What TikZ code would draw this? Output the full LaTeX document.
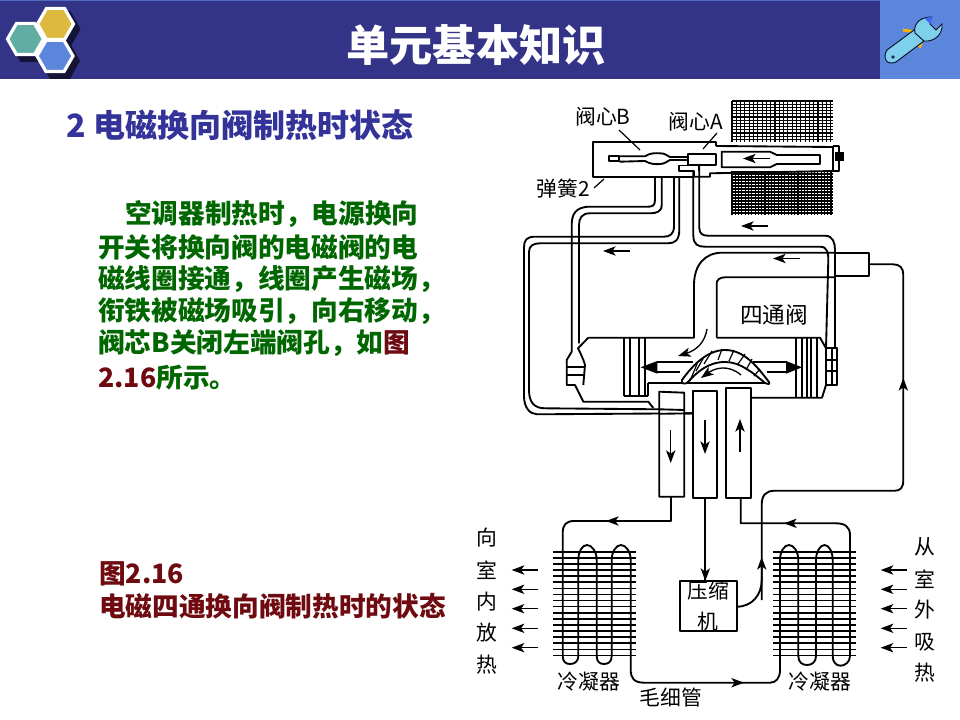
\documentclass[tikz,border=0pt]{standalone}
\usepackage{fontspec}
\setmainfont{Liberation Sans}
\newfontfamily\cjk{Noto Sans CJK SC}
\usetikzlibrary{arrows.meta}
\definecolor{navy}{HTML}{333388}
\definecolor{headblue}{HTML}{5B86DC}
\definecolor{dgreen}{HTML}{006600}
\definecolor{dred}{HTML}{6E0A10}
\definecolor{headnavy}{HTML}{333399}
\definecolor{wrench}{HTML}{7FD0EC}
\definecolor{hexgold}{HTML}{DDB93D}
\definecolor{hexteal}{HTML}{5FADA3}
\tikzset{
 ln/.style={line width=1.4pt,line join=round,black},
 thin ln/.style={line width=0.9pt,black},
 flow/.style={line width=1pt,-{Stealth[length=9.5pt,width=7pt,inset=2.5pt]}},
 hex/.style={line width=2.4pt,draw=white,line join=miter},
 lab/.style={font=\cjk\fontsize{15.6pt}{19pt}\selectfont,inner sep=0pt,text=black},
 body/.style={font=\cjk\bfseries\fontsize{20pt}{24pt}\selectfont,inner sep=0pt,anchor=west},
}
\newcommand{\hexdraw}[3]{%
 \draw[hex,fill=#3] (#1-18,#2)--(#1-9,#2-15.6)--(#1+9,#2-15.6)--(#1+18,#2)--(#1+9,#2+15.6)--(#1-9,#2+15.6)--cycle;
}
\begin{document}
\begin{tikzpicture}[x=0.75pt,y=-0.75pt]
\useasboundingbox (0,0) rectangle (960,720);
\fill[white] (0,0) rectangle (960,720);
% header
\fill[navy] (0,0) rectangle (880,79.5);
\fill[headblue!70!navy] (0,0) rectangle (880,1.5);
\fill[headblue] (880,0) rectangle (960,79.5);
% logo
\begin{scope}[shift={(5,5)}]
\fill[black!60!navy] (55.5,24) +(-20,0)--+(-10,-18)--+(10,-18)--+(20,0)--+(10,18)--+(-10,18)--cycle;
\fill[black!60!navy] (55,56) +(-20,0)--+(-10,-18)--+(10,-18)--+(20,0)--+(10,18)--+(-10,18)--cycle;
\fill[black!60!navy] (25.5,39) +(-20,0)--+(-10,-18)--+(10,-18)--+(20,0)--+(10,18)--+(-10,18)--cycle;
\end{scope}
\hexdraw{55.5}{24}{hexgold}
\hexdraw{25.5}{39}{hexteal}
\hexdraw{55}{56}{headblue}
% wrench
\draw[line width=2.2pt,orange!60!yellow] (903,30)--(915,32)--(911,42);
\draw[line width=2.2pt,orange!60!yellow] (909,38)--(920,46)--(923,38);
\draw[line width=0.7pt,black!70!navy,fill=wrench] (887,50)--(914,30)--(924,41)--(896,62) .. controls (887,66) and (882,58) .. (887,50)--cycle;
\draw[line width=0.7pt,black!70!navy,fill=wrench] (915,33) .. controls (913,24) and (920,17) .. (931,17) -- (930,24) -- (936,30) -- (942,24) .. controls (943,34) and (935,42) .. (924,41) -- cycle;
\fill[blue!50!wrench] (924,18)--(933,17)--(930,24)--cycle;
\fill[navy!70!black] (893,57) circle (1.8);
% texts left
\node[font=\cjk\bfseries\fontsize{32.4pt}{36pt}\selectfont,text=white,inner sep=0pt] (title) at (476,45) {单元基本知识};
\node[font=\cjk\bfseries\fontsize{24pt}{28pt}\selectfont,text=headnavy,anchor=west,inner sep=0pt] (head) at (66,125) {2 电磁换向阀制热时状态};
\node[body,text=dgreen] (l1) at (125,214) {空调器制热时，电源换向};
\node[body,text=dgreen] (l2) at (98,247) {开关将换向阀的电磁阀的电};
\node[body,text=dgreen] (l3) at (98,279) {磁线圈接通，线圈产生磁场，};
\node[body,text=dgreen] (l4) at (98,311) {衔铁被磁场吸引，向右移动，};
\node[body,text=dgreen] (l5) at (98,343) {阀芯B关闭左端阀孔，如\textcolor{dred}{图}};
\node[body,text=dgreen] (l6) at (98,378) {\textcolor{dred}{2.16}所示。};
\node[body,text=dred] (c1) at (99,574) {图2.16};
\node[body,text=dred] (c2) at (99,606) {电磁四通换向阀制热时的状态};
% grid coil
\begin{scope}[line width=0.8pt,black]
\foreach \y in {101,104.2,...,147} \draw (732,\y)--(833,\y);
\foreach \x in {732,736.3,...,833} \draw (\x,101)--(\x,147);
\foreach \y in {171,174,...,215} \draw (732,\y)--(833,\y);
\foreach \x in {732,735.3,...,833} \draw (\x,171)--(\x,215);
\end{scope}
% solenoid valve body
\fill[white] (593.3,141.7) rectangle (833,171);
\draw[ln] (716,146)--(833,147)--(833,171)--(710,173.3)--(710,176.7)--(693,176.7);
\draw[ln] (716,146)--(716,141.7)--(593.3,141.7)--(593.3,176.7)--(693,176.7);
\draw[ln] (833,146)--(839,146)--(839,171)--(833,171);
\fill (835,152.5) rectangle (844,161.5);
\draw[ln] (609.3,155.7)--(619.3,155.7)--(619.3,161)--(609.3,161)--cycle;
\draw[ln] (619.3,156.3)--(645,156.3) .. controls (650,153) and (655,153) .. (660,153.3) .. controls (665,153) and (667,156) .. (670,157)--(688.3,157);
\draw[ln] (619.3,161.7)--(645,161) .. controls (650,164) and (655,164.5) .. (660,164) .. controls (665,164) and (667,161) .. (670,160)--(688.3,160);
\draw[ln] (688.3,154) rectangle (716,165);
\draw[ln] (688.3,165.5)--(679,165.5)--(679,171)--(694,171)--(694,176.7);
\draw[ln] (699.3,165)--(699.3,171);
\draw[ln] (721.7,151.7)--(770,151.7)--(776.7,155)--(820,155)--(820,164)--(776.7,164)--(770,167.3)--(721.7,167.3)--cycle;
\draw[flow] (770,158.5)--(743,158.5);
% leaders
\draw[thin ln] (619,130)--(640,150);
\draw[thin ln] (717,133)--(703,149);
\draw[thin ln] (594,188)--(604,179);
% tubes
\begin{scope}[ln]
\draw (655,177.5)--(655,200) .. controls (655,206) and (652,206.7) .. (648,206.7)--(590,206.7) .. controls (575,206.7) and (571.7,215) .. (571.7,225)--(571.7,351.7)--(566.7,360)--(566.7,385)--(575,385)--(583.3,401.7)--(648.3,401.7)--(653.3,408);
\draw (661.7,177.5)--(661.7,205) .. controls (661.7,212) and (656,213.3) .. (650,213.3)--(590,213.3) .. controls (582,213.3) and (579,218) .. (579,225)--(579,343.3);
\draw (674,177.5)--(674,226) .. controls (674,234) and (670,236.7) .. (664,236.7)--(535,236.7) .. controls (527,236.7) and (524,240) .. (524,247)--(524,396) .. controls (524,408) and (530,414) .. (537,414.3)--(693,413.3);
\draw (679.3,177.5)--(679.3,230) .. controls (679.3,240) and (675,243.3) .. (668,243.3)--(540,243.3) .. controls (533,243.3) and (529,246) .. (529,252)--(529,390) .. controls (529,402) and (534,408.3) .. (545,408.3)--(659.3,409.3);
\draw (693.3,171)--(693.3,235) .. controls (693.3,245) and (698,246.7) .. (705,246.7)--(820,246.7) .. controls (828,246.7) and (828.3,254) .. (828.3,260)--(826,348.3);
\draw (699.3,165)--(699.3,228) .. controls (699.3,234) and (703,235.7) .. (708,235.7)--(825,235.7) .. controls (833,235.7) and (835,243) .. (835,250)--(835,348.3);
% main valve
\draw (588.3,337.7)--(578,348.3) .. controls (584,360) and (585,365) .. (585,365) -- (583.3,385);
\draw (588.3,337.7)--(694,337.7)--(694,285) .. controls (694,265) and (705,252.7) .. (722,252.7)--(835,252.7);
\draw (716.7,337.7)--(716.7,283) .. controls (716.7,280) and (720,277.3) .. (725,277.3)--(835,277.3);
\draw (716.7,337.7)--(820,337.7)--(826,348.3);
\draw (835,252.7)--(869,252.7)--(869,276)--(835,276)--cycle;
\draw (869,264.3)--(893,264.3) .. controls (900,264.3) and (903.3,268) .. (903.3,275)--(903.3,480) .. controls (903.3,488) and (900,490.7) .. (895,490.7)--(775,490.7) .. controls (766,490.7) and (761.7,495) .. (761.7,505)--(761.7,600);
\draw (826,348.3)--(837.3,348.3)--(837.3,385)--(826,385)--cycle;
\draw (826,360)--(837.3,360)--(837.3,370.7)--(826,370.7);
\draw (832,348.3)--(832,385);
\draw (826,385)--(822,397.7)--(751.7,397.7);
\draw (566.7,366.7)--(585,366.7);
\draw (566.7,375)--(585,375);
% pistons
\foreach \x in {624,630,639,645} \draw (\x,338)--(\x,396);
\draw (624,396)--(648.3,396);
\draw (648.3,383)--(648.3,396);
\foreach \x in {796,801.7,806.7,811,816.7} \draw (\x,338)--(\x,397.7);
% rod
\draw (656.7,362.3)--(693.3,362.3);
\draw (656.7,372.3)--(680,372.3);
\fill (640.7,367.3)--(657.3,361)--(657.3,373.7)--cycle;
\draw (753.3,362.3)--(787,362.3);
\draw (767,372.3)--(787,372.3);
\fill (802,367.3)--(786,361)--(786,373.7)--cycle;
\draw (648.3,383)--(768,383);
% ports
\draw[fill=white] (659.3,391.7)--(684.3,392.7)--(684.3,496.7)--(659.3,496.7)--cycle;
\draw[fill=white] (692.7,390.7)--(716.7,390.7)--(716.7,498.3)--(692.7,498.3)--cycle;
\draw[fill=white] (726,388.3)--(751,388.3)--(751,497.7)--(726,497.7)--cycle;
\draw (659.3,409.3)--(684.3,410);
\draw (659.3,413.8)--(692.7,413.3);
\draw (671,496.7)--(671,521)--(574,521) .. controls (566,521) and (562.7,525) .. (562.7,533)--(562.7,656) .. controls (562.7,662) and (566,664) .. (570,664) .. controls (574,664) and (578.3,662) .. (578.3,656)--(578.3,560) .. controls (578.3,552) and (582,545) .. (587,545) .. controls (592,545) and (596.7,552) .. (596.7,560)--(596.7,656) .. controls (596.7,662) and (600,664) .. (604,664) .. controls (608,664) and (611.7,662) .. (611.7,656)--(611.7,560) .. controls (611.7,552) and (616,545) .. (621,545) .. controls (626,545) and (630.7,552) .. (630.7,560)--(630.7,670) .. controls (630.7,678) and (634,682.7) .. (644,682.7)--(770,682.7) .. controls (776,682.7) and (780,678) .. (780,670)--(780,560) .. controls (780,552) and (784,545) .. (789,545) .. controls (794,545) and (798.3,552) .. (798.3,560)--(798.3,656) .. controls (798.3,662) and (802,665) .. (807,665) .. controls (812,665) and (816,662) .. (816,656)--(816,560) .. controls (816,552) and (820,545) .. (824.5,545) .. controls (829,545) and (832.7,552) .. (832.7,560)--(832.7,656) .. controls (832.7,662) and (836,665.7) .. (840.5,665.7) .. controls (845,665.7) and (850,662) .. (850,656)--(850,535) .. controls (850,527) and (845,523.3) .. (836,523.3)--(740.7,523.3)--(740.7,497.7);
\draw (736.7,606.7) .. controls (752,606.7) and (761.7,595) .. (761.7,580)--(761.7,560);
\draw (705.3,498.3)--(705.3,581);
\end{scope}
% slider
\draw[ln,fill=white] (682,380) .. controls (692,366) and (707,350) .. (725,350) .. controls (745,350) and (758,368) .. (769,382) .. controls (770,385) and (768,384) .. (765,383) .. controls (752,372) and (740,362) .. (725,362) .. controls (708,362) and (697,372) .. (687,383) .. controls (684,384) and (681,384) .. (682,380) -- cycle;
\foreach \a/\b/\c/\d in {690/381/697/364,696/371/704/357,704/364/712/351,718/360/722/349,729/361/734/350,738/364/745/354,746/370/752/359,754/376/760/369}
 \draw[thin ln] (\a,\b)--(\c,\d);
% curved flows
\draw[flow] (707,329) .. controls (705,342) and (697,350) .. (678,356);
\draw[flow] (741,375) .. controls (728,364) and (715,368) .. (701,378);
% straight flows
\draw[flow] (670.7,430)--(670.7,463);
\draw[flow] (705,420)--(705,454);
\draw[flow] (740,452)--(740,419);
\draw[flow] (768,226)--(741,226);
\draw[flow] (630,251)--(603,251);
\draw[flow] (800,258.5)--(773,258.5);
\draw[flow] (630,521)--(606,521);
\draw[flow] (805,523.3)--(784,523.3);
\draw[flow] (715,682.7)--(744,682.7);
\draw[flow] (761.7,590)--(761.7,557);
\draw[flow] (903.3,400)--(903.3,378);
\draw[flow] (705.3,550)--(705.3,581);
% heat arrows
\foreach \y in {570,589.3,608.7,628.3,647.7} {
 \draw[flow] (538.3,\y)--(511.7,\y);
 \draw[flow] (906.7,\y)--(880.7,\y);
}
% fins
\foreach \i in {0,...,17} {
 \draw[line width=1.2pt] (553.3,551.7+6.1*\i)--(636,551.7+6.1*\i);
 \draw[line width=1.2pt] (773.3,551.7+6.1*\i)--(856,551.7+6.1*\i);
}
% compressor
\draw[ln,fill=white] (680,581) rectangle (736.7,631);
\node[lab,align=center,font=\cjk\fontsize{15.6pt}{23pt}\selectfont] (cp) at (708.3,606) {压缩\\机};
% labels
\node[lab] (t1) at (603,117) {阀心B};
\node[lab] (t2) at (696,122) {阀心A};
\node[lab] (t3) at (563,189) {弹簧2};
\node[lab,font=\cjk\fontsize{17pt}{20pt}\selectfont] (t4) at (774,315) {四通阀};
\node[lab] (t5) at (589,682) {冷凝器};
\node[lab] (t6) at (820,682) {冷凝器};
\node[lab] (t7) at (671,698) {毛细管};
\foreach \c/\y/\n in {向/538/a,室/570/b,内/602/c,放/633/d,热/665/e}
 \node[lab] (le\n) at (487,\y) {\c};
\foreach \c/\y/\n in {从/547/a,室/579/b,外/610/c,吸/642/d,热/673/e}
 \node[lab] (ri\n) at (925,\y) {\c};
\end{tikzpicture}
\end{document}
